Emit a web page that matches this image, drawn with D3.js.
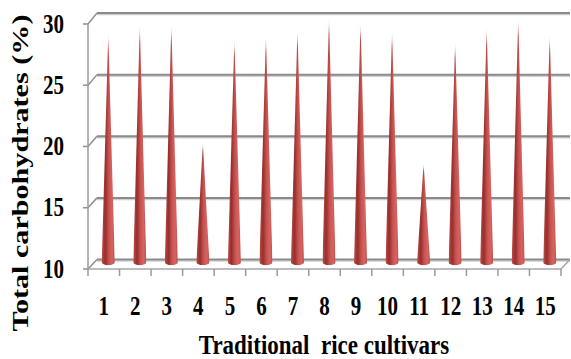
<!DOCTYPE html>
<html>
<head>
<meta charset="utf-8">
<script src="https://cdn.jsdelivr.net/npm/d3@7"></script>
<style>
  body { margin: 0; background: #fff; }
</style>
</head>
<body>
<div id="chart"></div>
<script>
// chart data
var cultivars = ["1", "2", "3", "4", "5", "6", "7", "8", "9", "10", "11", "12", "13", "14", "15"];
var carbohydrates = [28.8, 29.5, 29.5, 19.9, 28.3, 28.6, 29.1, 30.1, 29.7, 29.0, 18.2, 28.1, 29.3, 30.0, 28.7];
var yTicks = [10, 15, 20, 25, 30];

var width = 571,
  height = 359;
var serif = "'Liberation Serif', 'Times New Roman', Tinos, 'DejaVu Serif', serif";

var svg = d3.select("#chart")
  .append("svg")
  .attr("width", width)
  .attr("height", height);

// 3d box: front plane and back wall
var depthX = 9;
var x = d3.scaleBand()
  .domain(cultivars)
  .range([88, 561]);

var yFront = d3.scaleLinear().domain([10, 30]).range([269, 24]);
var yBack = d3.scaleLinear().domain([10, 30]).range([259.5, 13]);
var yMid = function(v) { return (yFront(v) + yBack(v)) / 2; };

var defs = svg.append("defs");
var grad = defs.append("linearGradient")
  .attr("id", "coneFill")
  .attr("x1", "0%").attr("x2", "100%")
  .attr("y1", "0%").attr("y2", "0%");
grad.append("stop").attr("offset", "0%").attr("stop-color", "#c04a47");
grad.append("stop").attr("offset", "28%").attr("stop-color", "#93302d");
grad.append("stop").attr("offset", "55%").attr("stop-color", "#c9524f");
grad.append("stop").attr("offset", "80%").attr("stop-color", "#d66461");
grad.append("stop").attr("offset", "100%").attr("stop-color", "#bd4d4a");

// fade out the cone tips
var fade = defs.append("linearGradient")
  .attr("id", "tipFade")
  .attr("x1", "0").attr("x2", "0")
  .attr("y1", "0").attr("y2", "1");
fade.append("stop").attr("offset", "0").attr("stop-color", "#000");
fade.append("stop").attr("offset", "0.07").attr("stop-color", "#fff");
fade.append("stop").attr("offset", "1").attr("stop-color", "#fff");
defs.append("mask")
  .attr("id", "tipMask")
  .attr("maskContentUnits", "objectBoundingBox")
  .append("rect")
  .attr("width", 1).attr("height", 1)
  .attr("fill", "url(#tipFade)");

// back wall grid lines
var grid = svg.append("g").attr("class", "grid");
grid.selectAll(".shadow")
  .data(yTicks)
  .enter().append("line")
  .attr("class", "shadow")
  .attr("x1", 88 + depthX).attr("x2", 561 + depthX)
  .attr("y1", function(d) { return yBack(d) + 1.5; })
  .attr("y2", function(d) { return yBack(d) + 1.5; })
  .attr("stroke", "#cfcfcf")
  .attr("stroke-width", 1.5);
grid.selectAll(".wall")
  .data(yTicks)
  .enter().append("line")
  .attr("class", "wall")
  .attr("x1", 88 + depthX).attr("x2", 561 + depthX)
  .attr("y1", function(d) { return yBack(d); })
  .attr("y2", function(d) { return yBack(d); })
  .attr("stroke", "#8a8a8a")
  .attr("stroke-width", 2);

// side wall diagonals and left ticks
grid.selectAll(".side")
  .data(yTicks)
  .enter().append("path")
  .attr("class", "side")
  .attr("d", function(d) {
    return "M83," + yFront(d) + "L88," + yFront(d) + "L" + (88 + depthX) + "," + yBack(d);
  })
  .attr("fill", "none")
  .attr("stroke", "#8f8f8f")
  .attr("stroke-width", 1.5);

// left axis line
svg.append("line")
  .attr("x1", 88).attr("x2", 88)
  .attr("y1", yFront(30)).attr("y2", yFront(10))
  .attr("stroke", "#9a9a9a")
  .attr("stroke-width", 1.5);

// floor front edge and right diagonal
svg.append("path")
  .attr("d", "M88," + yFront(10) + "L561," + yFront(10) + "L" + (561 + depthX) + "," + yBack(10))
  .attr("fill", "none")
  .attr("stroke", "#a6a6a6")
  .attr("stroke-width", 1.5);

// x ticks
var xEdges = cultivars.map(function(c) { return x(c); }).concat([x.range()[1]]);
svg.selectAll(".xtick")
  .data(xEdges)
  .enter().append("line")
  .attr("class", "xtick")
  .attr("x1", function(d) { return d; })
  .attr("x2", function(d) { return d; })
  .attr("y1", yFront(10))
  .attr("y2", yFront(10) + 7)
  .attr("stroke", "#9a9a9a")
  .attr("stroke-width", 1.5);

// cones
var coneR = 6.5,
  coneRy = 3;
var baseY = yMid(10) - 2;
svg.append("g")
  .selectAll("path")
  .data(carbohydrates)
  .enter().append("path")
  .attr("d", function(d, i) {
    var cx = x(cultivars[i]) + x.bandwidth() / 2 + depthX / 2;
    return "M" + (cx - coneR) + "," + baseY +
      "L" + cx + "," + yMid(d) +
      "L" + (cx + coneR) + "," + baseY +
      "A" + coneR + "," + coneRy + " 0 0 1 " + (cx - coneR) + "," + baseY + "Z";
  })
  .attr("fill", "url(#coneFill)")
  .attr("mask", "url(#tipMask)");

// y tick labels
svg.selectAll(".ylabel")
  .data(yTicks)
  .enter().append("text")
  .attr("class", "ylabel")
  .attr("transform", function(d) { return "translate(64," + (yFront(d) + 8.5) + ") scale(1,1.25)"; })
  .attr("text-anchor", "end")
  .attr("font-family", serif)
  .attr("font-weight", "bold")
  .attr("font-size", 21)
  .text(function(d) { return d; });

// x tick labels
svg.selectAll(".xlabel")
  .data(cultivars)
  .enter().append("text")
  .attr("class", "xlabel")
  .attr("transform", function(d) { return "translate(" + (x(d) + x.bandwidth() / 2) + ",315) scale(1,1.25)"; })
  .attr("text-anchor", "middle")
  .attr("font-family", serif)
  .attr("font-weight", "bold")
  .attr("font-size", 21)
  .text(function(d) { return d; });

// axis titles
svg.append("text")
  .attr("transform", "translate(324,354) scale(1,1.2)")
  .attr("text-anchor", "middle")
  .attr("font-family", serif)
  .attr("font-weight", "bold")
  .attr("font-size", 23)
  .style("white-space", "pre")
  .text("Traditional  rice cultivars");

svg.append("text")
  .attr("transform", "translate(28,173) scale(1,1.31) rotate(-90)")
  .attr("text-anchor", "middle")
  .attr("font-family", serif)
  .attr("font-weight", "bold")
  .attr("font-size", 23)
  .text("Total carbohydrates (%)");
</script>
</body>
</html>
